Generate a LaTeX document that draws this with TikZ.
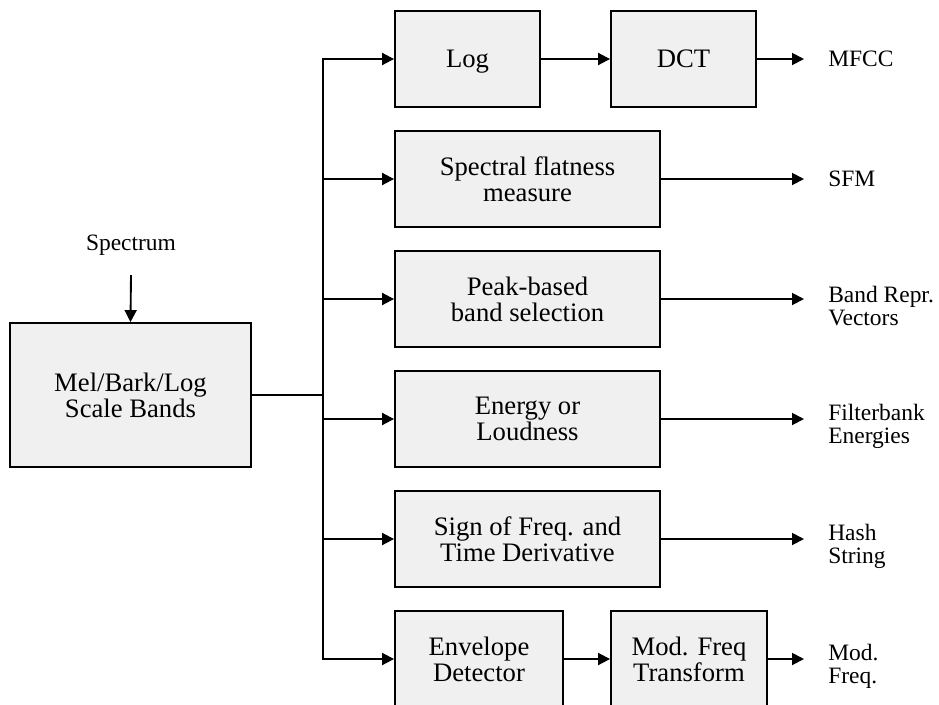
\documentclass[tikz,border=0pt]{standalone}
\usepackage{fontspec}
\setmainfont{Liberation Serif}
\usetikzlibrary{arrows.meta}
\definecolor{boxgray}{HTML}{F0F0F0}
\begin{document}
\begin{tikzpicture}[x=0.75pt,y=-0.75pt,
    block/.style={draw=black,line width=1.4pt,fill=boxgray,align=center,inner sep=0pt,
                  minimum height=72pt,font=\fontsize{20}{19.5}\selectfont},
    lbl/.style={align=left,inner sep=0pt,anchor=west,font=\fontsize{17.6}{17.3}\selectfont},
    wire/.style={line width=1.4pt},
    conn/.style={line width=1.4pt,-{Triangle[length=9pt,width=9pt]}}]
                  \useasboundingbox (0,0) rectangle (939,704);
                  % input side
                  \node[block,minimum width=180.75pt,minimum height=108pt] (mel) at (130.5,395) {Mel/Bark/Log\\Scale Bands};
                  \node[lbl,anchor=center] (spec) at (131,245) {Spectrum};
                  \coordinate (specin) at (131,275);
                  \coordinate (split) at (323,395);
                  \draw[conn] (specin) -- (mel.north);
                  \draw[wire] (mel) -- (split);
                  % blocks
                  \node[block,minimum width=108.75pt,text depth=0pt] (log) at (467.5,59) {Log};
                  \node[block,minimum width=108.75pt,text depth=0pt] (dct) at (683.5,59) {DCT};
                  \node[block,minimum width=198.75pt] (sfm) at (527.5,179) {Spectral flatness\\measure};
                  \node[block,minimum width=198.75pt] (peak) at (527.5,299) {Peak-based\\band selection};
                  \node[block,minimum width=198.75pt] (energy) at (527.5,419) {Energy or\\Loudness};
                  \node[block,minimum width=198.75pt] (sign) at (527.5,539) {Sign of Freq. and\\Time Derivative};
                  \node[block,minimum width=126pt] (env) at (479,659) {Envelope\\Detector};
                  \node[block,minimum width=117pt] (modf) at (689,659) {Mod. Freq\\Transform};
                  % branches
                  \draw[conn] (split) |- (log.west);
                  \draw[conn] (split) |- (sfm.west);
                  \draw[conn] (split) |- (peak.west);
                  \draw[conn] (split) |- (energy.west);
                  \draw[conn] (split) |- (sign.west);
                  \draw[conn] (split) |- (env.west);
                  \draw[conn] (log) -- (dct);
                  \draw[conn] (env) -- (modf);
                  % outputs
                  \coordinate (o1) at (804,59);
                  \coordinate (o2) at (804,179);
                  \coordinate (o3) at (804,299);
                  \coordinate (o4) at (804,419);
                  \coordinate (o5) at (804,539);
                  \coordinate (o6) at (804,659);
                  \draw[conn] (dct) -- (o1);
                  \draw[conn] (sfm) -- (o2);
                  \draw[conn] (peak) -- (o3);
                  \draw[conn] (energy) -- (o4);
                  \draw[conn] (sign) -- (o5);
                  \draw[conn] (modf) -- (o6);
                  \node[lbl] (mfcc) at (828,59) {MFCC};
                  \node[lbl] (sfmout) at (828,179) {SFM};
                  \node[lbl] (bandout) at (828,306) {Band Repr.\\Vectors};
                  \node[lbl] (fbout) at (828,426) {Filterbank\\Energies};
                  \node[lbl] (hashout) at (828,546) {Hash\\String};
                  \node[lbl] (modout) at (828,666) {Mod.\\Freq.};
              \end{tikzpicture}
\end{document}
